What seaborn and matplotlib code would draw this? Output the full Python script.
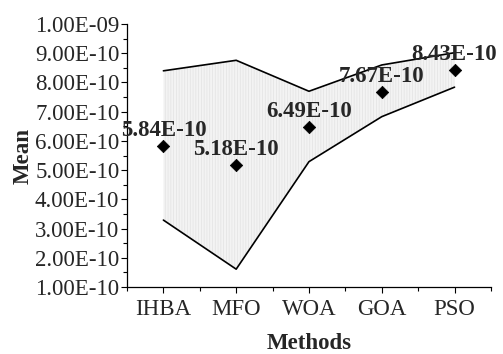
import matplotlib
matplotlib.use("Agg")
import matplotlib.pyplot as plt
import matplotlib.ticker as mticker
import numpy as np
import pandas as pd
import seaborn as sns

methods = ["IHBA", "MFO", "WOA", "GOA", "PSO"]
mean_vals = [5.84e-10, 5.18e-10, 6.49e-10, 7.67e-10, 8.43e-10]
upper_vals = [8.40e-10, 8.76e-10, 7.70e-10, 8.60e-10, 9.02e-10]
lower_vals = [3.29e-10, 1.61e-10, 5.29e-10, 6.83e-10, 7.84e-10]
mean_labels = ["5.84E-10", "5.18E-10", "6.49E-10", "7.67E-10", "8.43E-10"]

df = pd.DataFrame({"Methods": methods, "Mean": mean_vals,
                   "Upper": upper_vals, "Lower": lower_vals})

sns.set_style("ticks")
plt.rcParams["font.family"] = ["Liberation Serif", "DejaVu Serif"]
plt.rcParams["hatch.linewidth"] = 0.5

FS = 16.5

fig = plt.figure(figsize=(5.03, 3.54), dpi=100)
ax = fig.add_axes([0.2525, 0.1893, 0.7235, 0.7427])

pos = np.arange(len(methods))
ax.fill_between(pos, df["Lower"], df["Upper"], facecolor="#f3f3f3",
                edgecolor="#e2e2e2", hatch="||||||", linewidth=0, zorder=1)
sns.lineplot(data=df, x="Methods", y="Upper", color="black", lw=1.2,
             ax=ax, zorder=2, sort=False)
sns.lineplot(data=df, x="Methods", y="Lower", color="black", lw=1.2,
             ax=ax, zorder=2, sort=False)
sns.scatterplot(data=df, x="Methods", y="Mean", marker="D", s=40,
                color="black", edgecolor="black", ax=ax, zorder=3)

for i, (v, lab) in enumerate(zip(mean_vals, mean_labels)):
    ax.annotate(lab, (i, v), xytext=(0, 7), textcoords="offset points",
                ha="center", va="baseline", fontsize=FS,
                fontweight="bold", zorder=4)

ax.set_xlim(-0.5, 4.5)
ax.set_ylim(1e-10, 1e-9)
ax.yaxis.set_major_locator(mticker.MultipleLocator(1e-10))
ax.yaxis.set_minor_locator(mticker.MultipleLocator(0.5e-10))
ax.yaxis.set_major_formatter(mticker.FuncFormatter(lambda v, p: f"{v:.2E}"))
ax.set_xticks(pos)
ax.set_xticklabels(methods)
ax.xaxis.set_minor_locator(mticker.FixedLocator(np.arange(-0.5, 5, 1.0)))

ax.tick_params(axis="both", which="major", direction="out", length=4,
               width=0.8, labelsize=FS, color="black", pad=1.5)
ax.tick_params(axis="both", which="minor", direction="out", length=3,
               width=0.8, color="black")
ax.tick_params(axis="x", which="major", pad=5)

ax.set_xlabel("Methods", fontsize=FS, fontweight="bold", labelpad=9)
ax.set_ylabel("Mean", fontsize=FS, fontweight="bold", labelpad=1)

for s in ["top", "right"]:
    ax.spines[s].set_visible(False)
for s in ["left", "bottom"]:
    ax.spines[s].set_linewidth(0.9)
    ax.spines[s].set_color("black")

fig.savefig("out.png", dpi=100)
